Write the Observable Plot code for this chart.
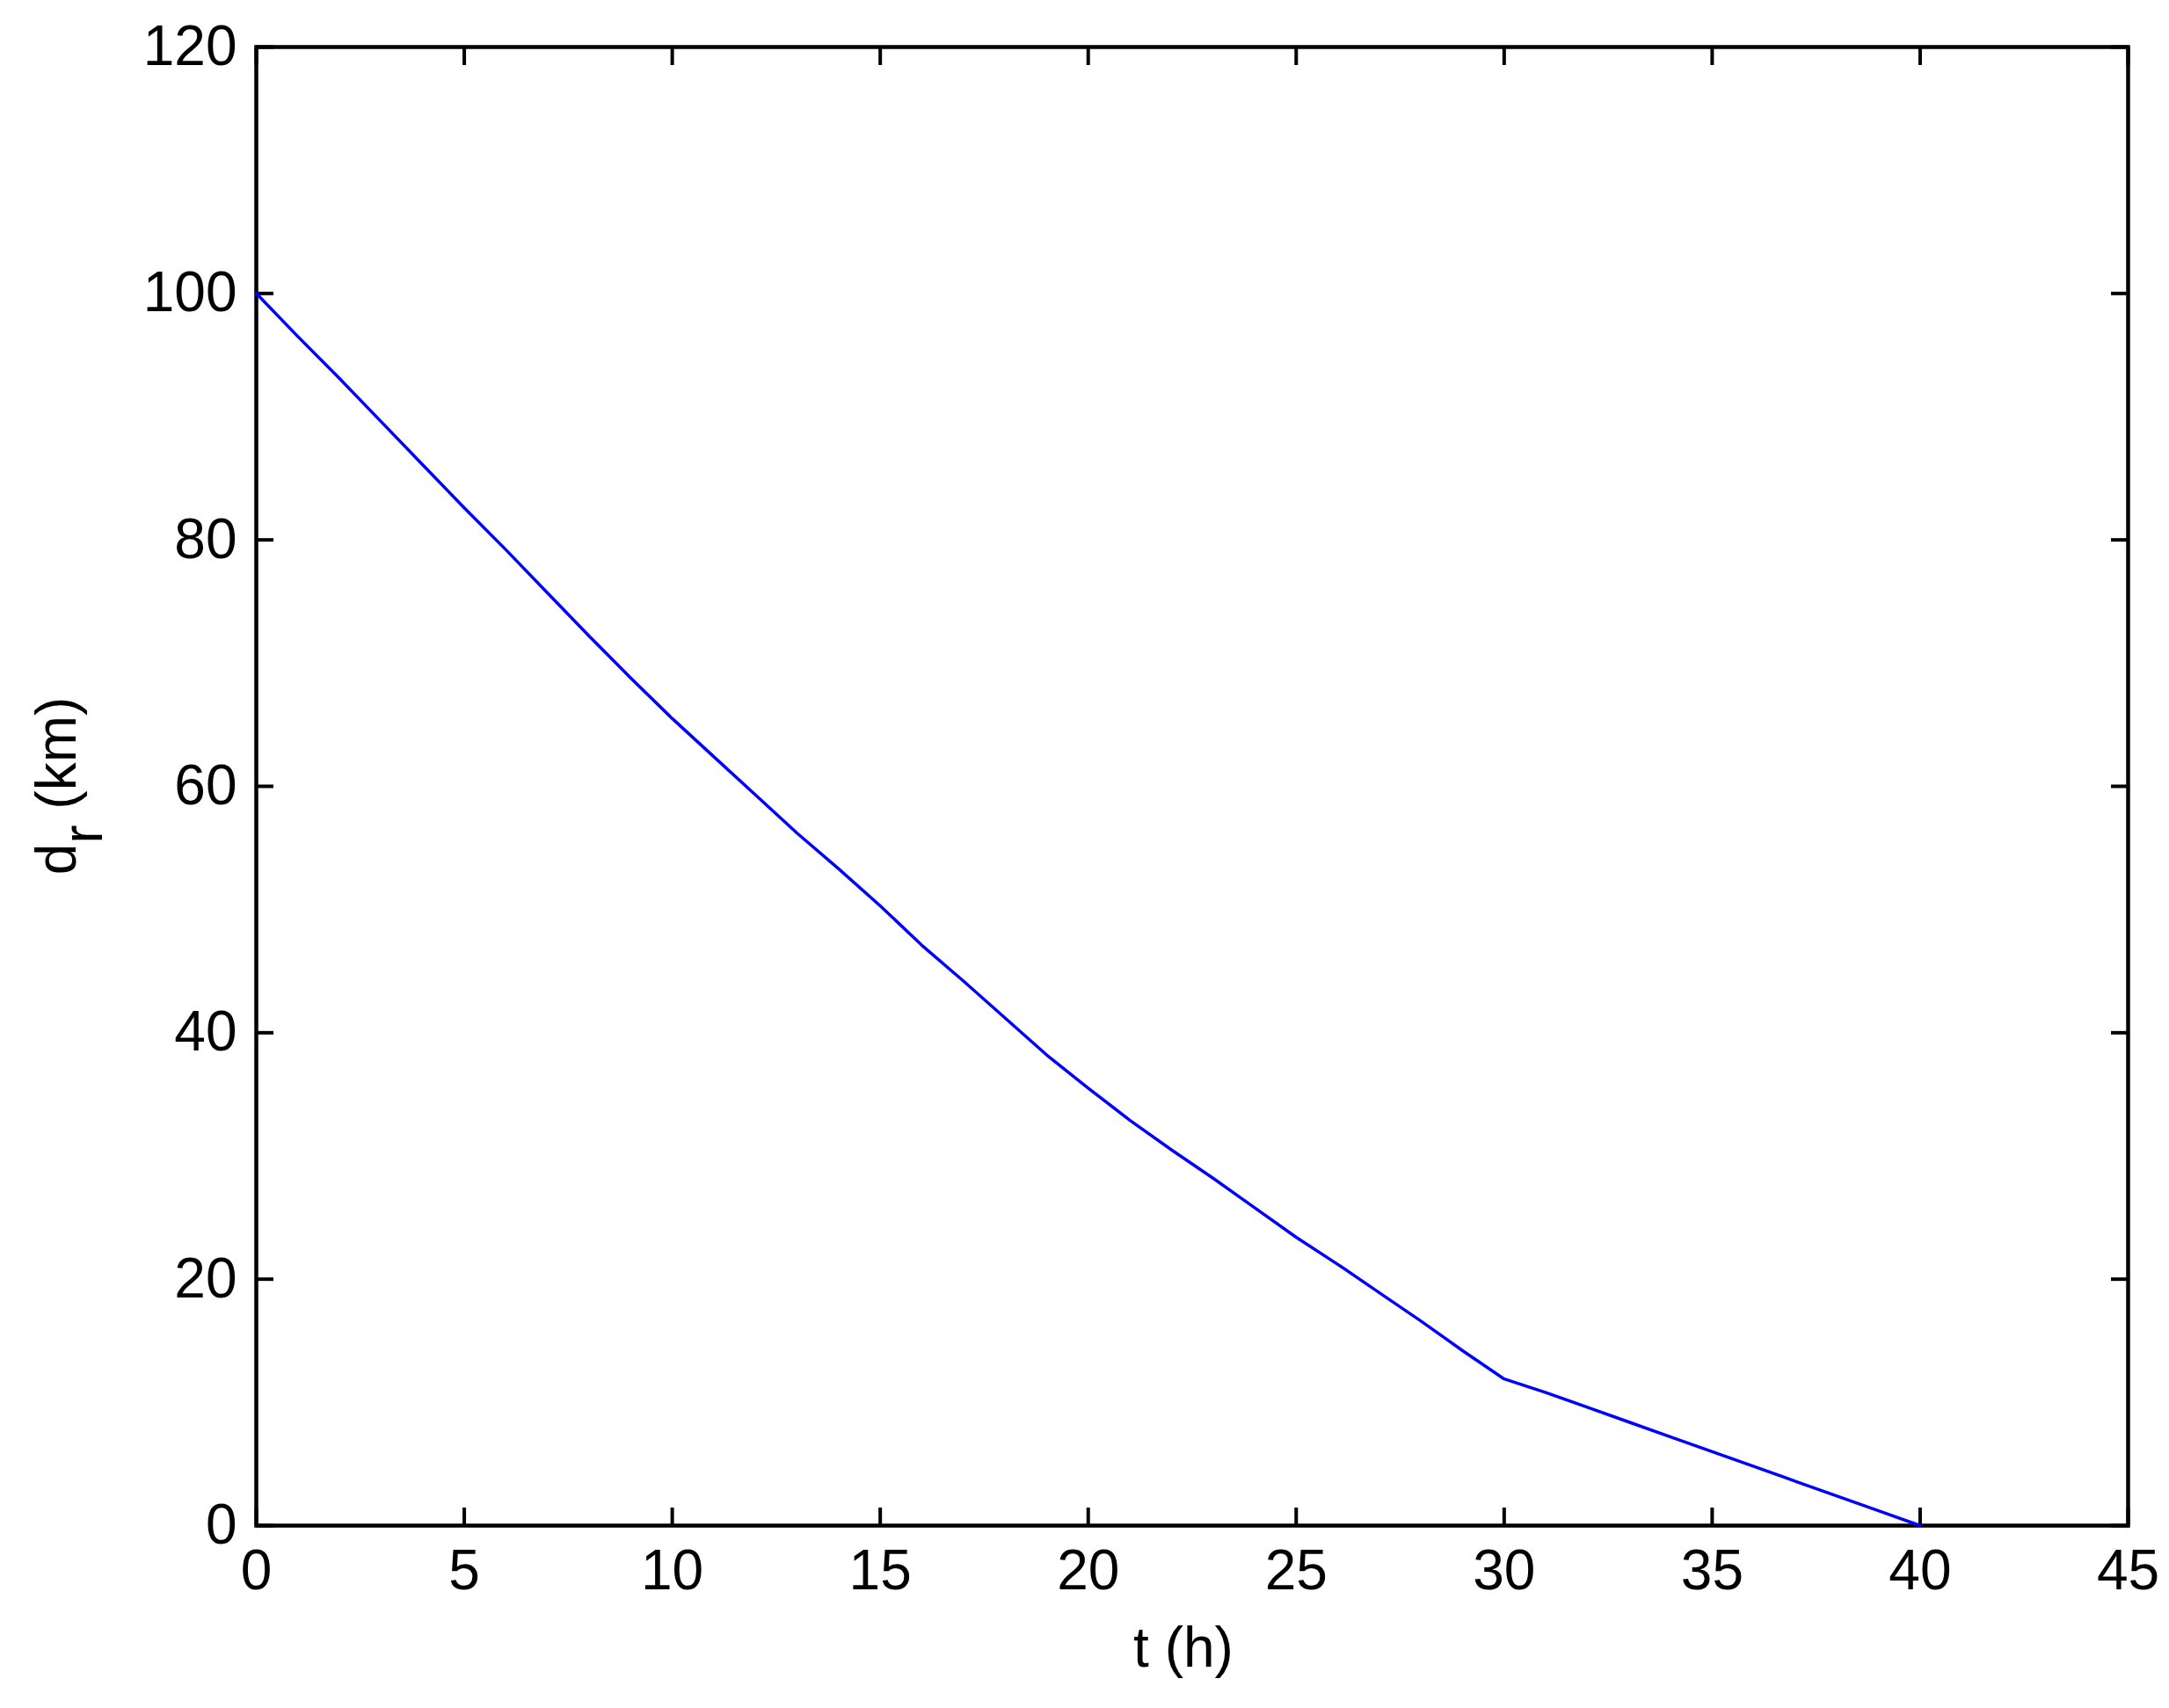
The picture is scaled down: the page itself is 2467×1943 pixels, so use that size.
<!DOCTYPE html>
<html>
<head>
<meta charset="utf-8">
<script src="https://cdn.jsdelivr.net/npm/d3@7"></script>
<script src="https://cdn.jsdelivr.net/npm/@observablehq/plot@0.6"></script>
<style>
  html, body { margin: 0; padding: 0; background: #ffffff; }
</style>
</head>
<body>
<div id="chart"></div>
<script>
// Time (h) and remaining distance d_r (km)
const hours = [0, 1, 2, 3, 4, 5, 6, 7, 8, 9, 10,
               11, 12, 13, 14, 15, 16, 17, 18, 19, 20,
               21, 22, 23, 24, 25, 26, 27, 28, 29, 30,
               31, 32, 33, 34, 35, 36, 37, 38, 39, 40];
const distanceKm = [100, 96.5, 93.1, 89.6, 86.1, 82.6, 79.2, 75.7, 72.2, 68.8, 65.5,
                    62.4, 59.3, 56.2, 53.3, 50.3, 47.1, 44.2, 41.2, 38.2, 35.5,
                    32.9, 30.5, 28.2, 25.8, 23.4, 21.2, 18.9, 16.6, 14.2, 11.9,
                    10.8, 9.6, 8.4, 7.2, 6.0, 4.8, 3.6, 2.4, 1.2, 0];
const xTicks = [0, 5, 10, 15, 20, 25, 30, 35, 40, 45];
const yTicks = [0, 20, 40, 60, 80, 100, 120];
const xLabel = "t (h)";
const yLabelMain = "d";
const yLabelSub = "r";
const yLabelUnit = " (km)";

const data = hours.map((t, i) => ({t, d: distanceKm[i]}));

const FS = 64;
const chart = Plot.plot({
  width: 2467,
  height: 1943,
  marginLeft: 291,
  marginRight: 47,
  marginTop: 53,
  marginBottom: 208,
  style: {fontFamily: "'Liberation Sans', Arial, Helvetica, sans-serif", fontSize: FS + "px", background: "#ffffff", color: "#000000"},
  x: {domain: [0, 45]},
  y: {domain: [0, 120]},
  marks: [
    Plot.axisX(xTicks, {anchor: "bottom", tickSize: -20, tickPadding: 47, strokeWidth: 4, fontSize: FS, label: null}),
    Plot.axisX(xTicks, {anchor: "top", tickSize: -20, strokeWidth: 4, tickFormat: () => "", label: null}),
    Plot.axisY(yTicks, {anchor: "left", tickSize: -20, tickPadding: 42, strokeWidth: 4, fontSize: FS, label: null}),
    Plot.axisY(yTicks, {anchor: "right", tickSize: -20, strokeWidth: 4, tickFormat: () => "", label: null}),
    Plot.frame({stroke: "#000000", strokeWidth: 4.5}),
    Plot.line(data, {x: "t", y: "d", stroke: "#0000ff", strokeWidth: 3.5}),
    Plot.text([xLabel], {frameAnchor: "bottom", dy: 140, dx: -10, lineAnchor: "middle", fontSize: FS, fill: "#000000"})
  ]
});

document.getElementById("chart").appendChild(chart);

// y-axis label with subscript
const yr = chart.scale("y").range;
const cy = (yr[0] + yr[1]) / 2;
const ylab = d3.select(chart).append("text")
  .attr("transform", `translate(86,${cy}) rotate(-90)`)
  .attr("text-anchor", "middle")
  .attr("font-size", FS)
  .attr("fill", "#000000");
ylab.append("tspan").text(yLabelMain);
ylab.append("tspan").attr("dy", 30).text(yLabelSub);
ylab.append("tspan").attr("dy", -30).text(yLabelUnit);
</script>
</body>
</html>
